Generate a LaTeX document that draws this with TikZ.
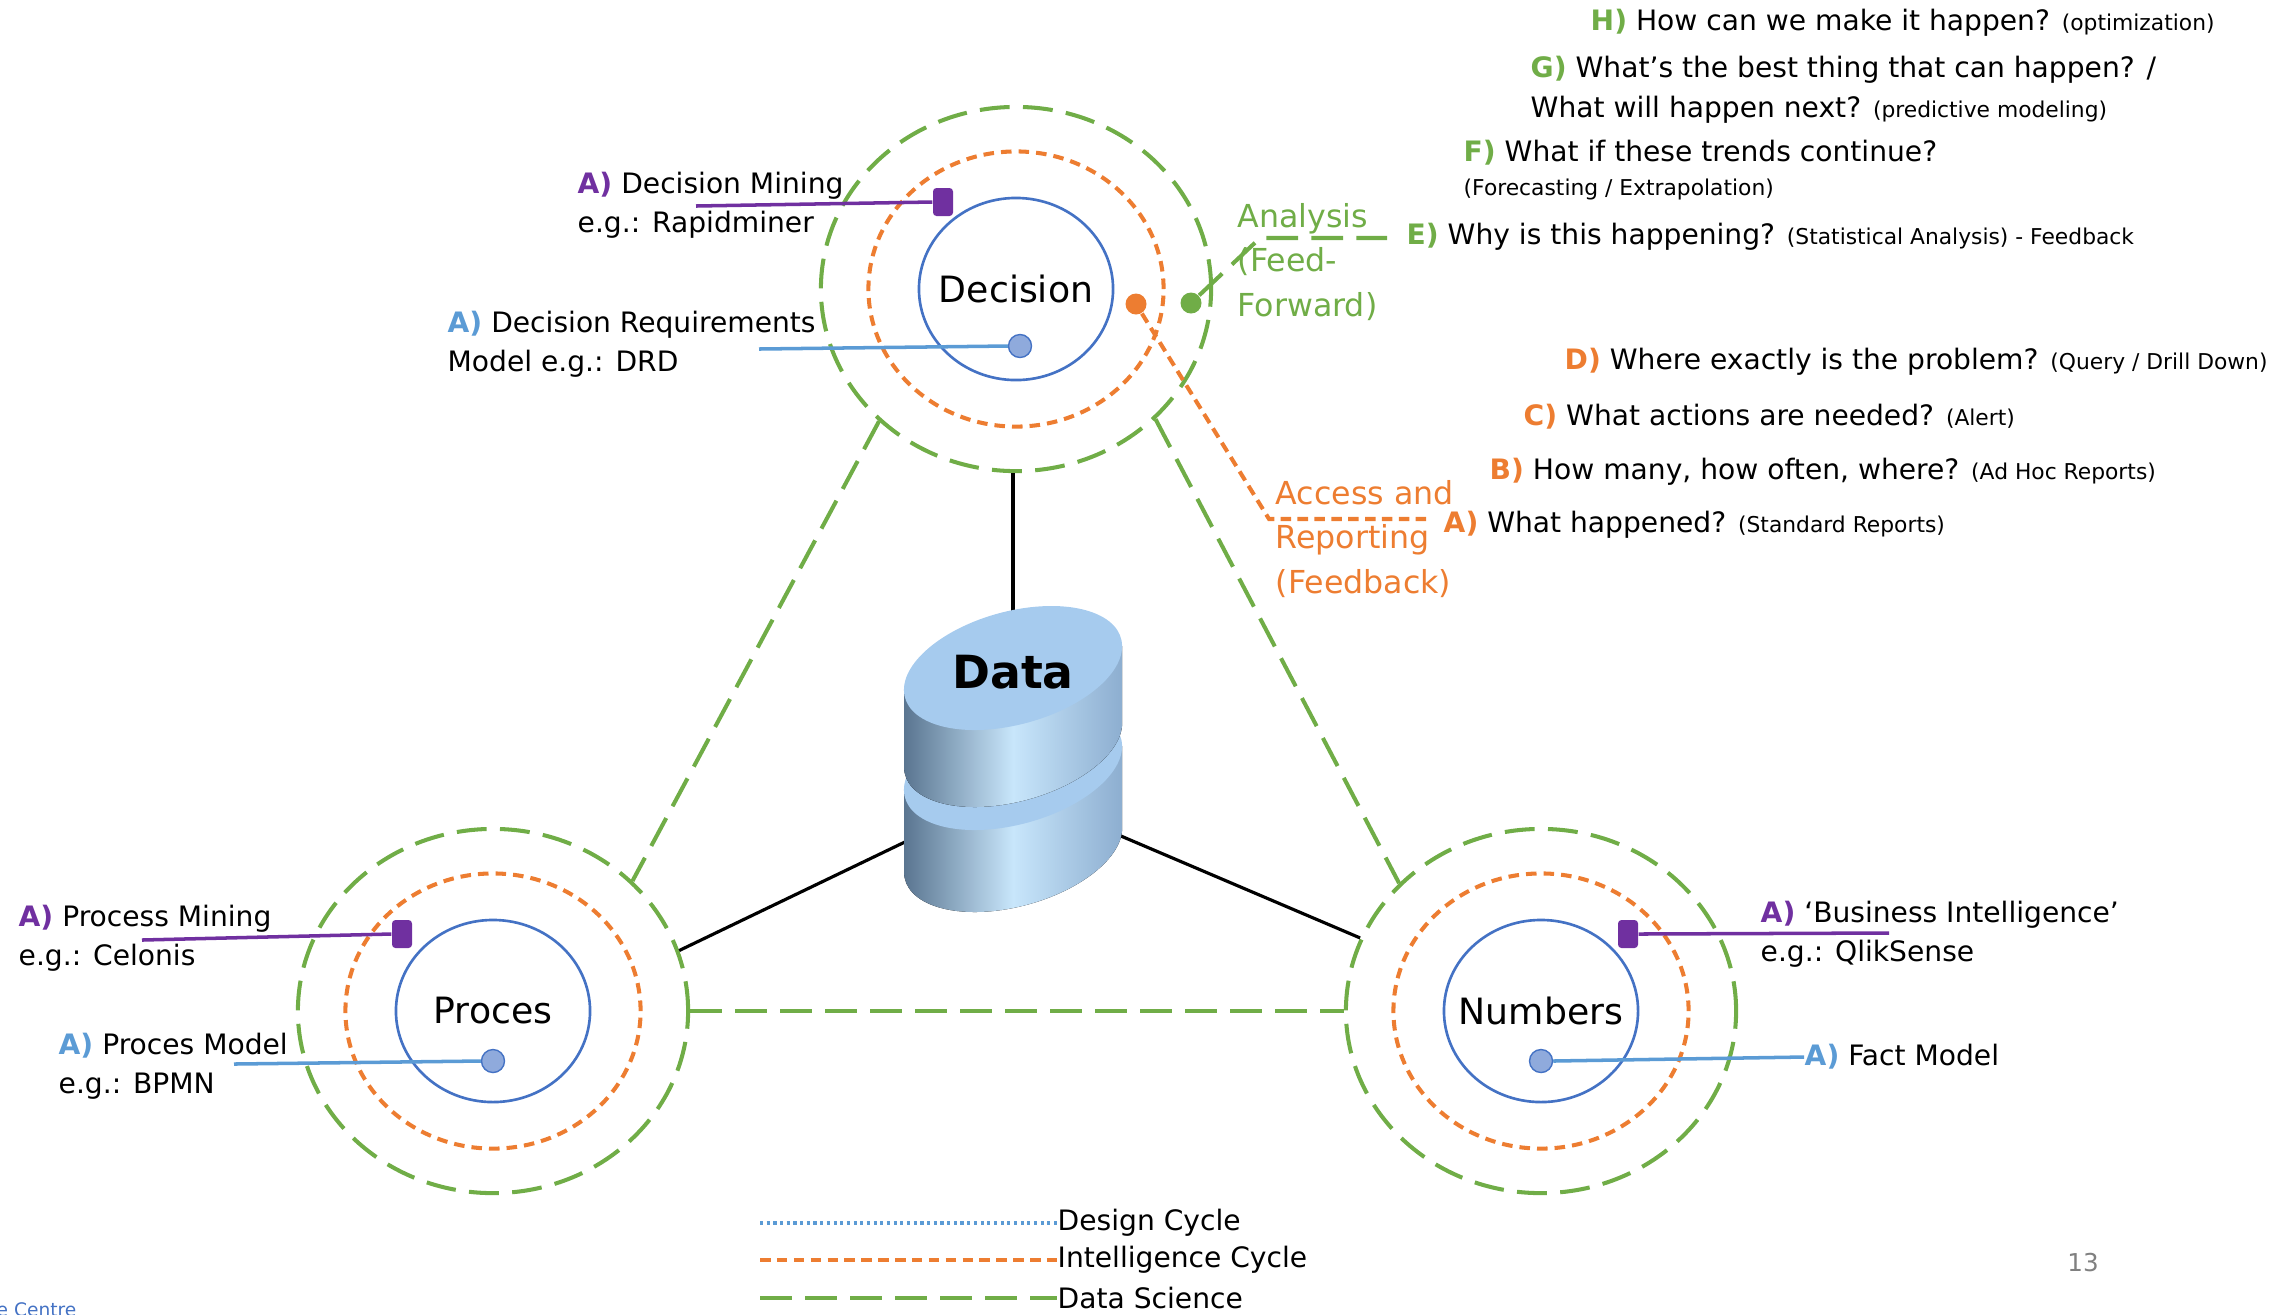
\documentclass[tikz,border=0pt]{standalone}
\usepackage{fontspec}
\setmainfont{DejaVu Sans}
\usepackage{xcolor}
\usetikzlibrary{shapes.geometric,positioning,calc}

\definecolor{dsgreen}{HTML}{70AD47}
\definecolor{icorange}{HTML}{ED7D31}
\definecolor{dcblue}{HTML}{5B9BD5}
\definecolor{ringblue}{HTML}{4472C4}
\definecolor{minepurple}{HTML}{7030A0}
\definecolor{dotfill}{HTML}{8FAADC}
\definecolor{facefill}{HTML}{A6CBEE}
\definecolor{bodyL}{HTML}{5A7590}
\definecolor{bodyM}{HTML}{C8E6FB}
\definecolor{bodyR}{HTML}{8DAED0}

\tikzset{
  ringg/.style={ellipse, draw=dsgreen, line width=1.15pt, dash pattern=on 8.5pt off 3.8pt,
                minimum width=3.9cm, minimum height=3.64cm, inner sep=0},
  ringo/.style={ellipse, draw=icorange, line width=1.15pt, dash pattern=on 3pt off 2pt,
                minimum width=2.95cm, minimum height=2.75cm, inner sep=0},
  core/.style={ellipse, draw=ringblue, line width=0.75pt, minimum width=1.94cm,
               minimum height=1.82cm, inner sep=0},
  coretxt/.style={inner sep=0, font=\fontsize{10.3}{12}\selectfont},
  dsline/.style={draw=dsgreen, line width=1.15pt, dash pattern=on 9pt off 3.8pt},
  icline/.style={draw=icorange, line width=1.15pt, dash pattern=on 3pt off 1.8pt},
  dcline/.style={draw=dcblue, line width=0.9pt, dash pattern=on 0.9pt off 1pt},
  link/.style={draw, line width=0.9pt},
  mine/.style={draw=minepurple, line width=1pt},
  model/.style={draw=dcblue, line width=1pt},
  minebox/.style={fill=minepurple, rounded corners=1pt, minimum width=0.2cm,
                  minimum height=0.28cm, inner sep=0},
  modeldot/.style={circle, fill=dotfill, draw=ringblue, line width=0.4pt,
                   minimum size=0.23cm, inner sep=0},
  cycdot/.style={circle, minimum size=0.21cm, inner sep=0},
  lbl/.style={anchor=west, inner sep=0, align=left, font=\fontsize{8}{11.1}\selectfont},
  qs/.style={anchor=west, inner sep=0, align=left, font=\fontsize{8}{11.4}\selectfont},
  flowtxt/.style={anchor=west, inner sep=0, align=left, font=\fontsize{9}{12.6}\selectfont},
}
\newcommand{\lett}[2]{{\bfseries\color{#1}#2}}
\newcommand{\smtxt}[1]{{\fontsize{6.2}{7.5}\selectfont #1}}

\begin{document}
\begin{tikzpicture}[x=0.01cm, y=-0.01cm]
  \useasboundingbox (0,0) rectangle (2292,1314);

  % the three cycles
  \node[ringg] (dec-g) at (1016,289) {};
  \node[ringo] (dec-o) at (1016,289) {};
  \node[core] (dec) at (1016,289) {};
  \node[coretxt] (dec-t) at (dec) {Decision};
  \node[ringg] (pro-g) at (493,1011) {};
  \node[ringo] (pro-o) at (493,1011) {};
  \node[core] (pro) at (493,1011) {};
  \node[coretxt] (pro-t) at (pro) {Proces};
  \node[ringg] (num-g) at (1541,1011) {};
  \node[ringo] (num-o) at (1541,1011) {};
  \node[core] (num) at (1541,1011) {};
  \node[coretxt] (num-t) at (num) {Numbers};

  % data science triangle
  \draw[dsline] (dec-g.224) -- (pro-g.43);
  \draw[dsline] (dec-g.317) -- (num-g.138);
  \draw[dsline] (pro-g.east) -- (num-g.west);

  % spokes to the data store
  \coordinate (hub) at (1013,790);
  \draw[link] (hub |- dec-g.south) -- (hub);
  \draw[link] (hub) -- (pro-g.18);
  \draw[link] (hub) -- (num-g.158);

  % data store
  \begin{scope}[shift={(1013,0)}, yslant=0.2]
    \fill[shade, left color=bodyL, right color=bodyR, middle color=bodyM]
      (-109,768) -- (-109,850) arc[start angle=180, end angle=360, x radius=1.09cm, y radius=0.58cm]
      -- (109,768) -- cycle;
    \fill[facefill] (0,768) ellipse [x radius=1.09cm, y radius=0.58cm];
    \fill[shade, left color=bodyL, right color=bodyR, middle color=bodyM]
      (-109,668) -- (-109,745) arc[start angle=180, end angle=360, x radius=1.09cm, y radius=0.58cm]
      -- (109,668) -- cycle;
    \fill[facefill] (0,668) ellipse [x radius=1.09cm, y radius=0.58cm];
  \end{scope}
  \node[font=\fontsize{13}{15}\selectfont\bfseries] (data) at (1013,672) {Data};

  % decision annotations
  \node[minebox] (dec-mine) at (943,202) {};
  \coordinate (dec-mine-e) at (696,206);
  \draw[mine] (dec-mine-e) -- (dec-mine.west);
  \node[lbl] (dec-mine-t) at (577,205) {\lett{minepurple}{A)} Decision Mining\\e.g.: Rapidminer};
  \node[modeldot] (dec-model) at (1020,346) {};
  \coordinate (dec-model-e) at (759,349);
  \draw[model] (dec-model-e) -- (dec-model.west);
  \node[lbl] (dec-model-t) at (447,344) {\lett{dcblue}{A)} Decision Requirements\\Model e.g.: DRD};

  % feedback and feed-forward
  \node[cycdot, fill=icorange] (ic-dot) at (1136,304) {};
  \node[cycdot, fill=dsgreen] (ds-dot) at (1191,303) {};
  \coordinate (ic-knee) at (1269,519);
  \coordinate (ic-end) at (1432,519);
  \draw[icline] (ic-dot) -- (ic-knee) -- (ic-end);
  \node[flowtxt, text=icorange] (ic-t) at (1275,539) {Access and\\Reporting\\(Feedback)};
  \coordinate (ds-knee) at (1260,238);
  \coordinate (ds-end) at (1387,238);
  \draw[dsline] (ds-dot) -- (ds-knee) -- (ds-end);
  \node[flowtxt, text=dsgreen] (ds-t) at (1237,262) {Analysis\\(Feed-\\Forward)};

  % questions
  \node[qs] (qh) at (1590,23) {\lett{dsgreen}{H)} How can we make it happen? \smtxt{(optimization)}};
  \node[qs] (qg) at (1530,70) {\lett{dsgreen}{G)} What’s the best thing that can happen? /};
  \node[qs] (qg2) at (1530,110) {What will happen next? \smtxt{(predictive modeling)}};
  \node[qs] (qf) at (1463,153) {\lett{dsgreen}{F)} What if these trends continue?};
  \node[qs] (qf2) at (1463,189) {\smtxt{(Forecasting / Extrapolation)}};
  \node[qs] (qe) at (1406,237) {\lett{dsgreen}{E)} Why is this happening? \smtxt{(Statistical Analysis) - Feedback}};
  \node[qs] (qd) at (1564,362) {\lett{icorange}{D)} Where exactly is the problem? \smtxt{(Query / Drill Down)}};
  \node[qs] (qc) at (1523,417) {\lett{icorange}{C)} What actions are needed? \smtxt{(Alert)}};
  \node[qs] (qb) at (1489,472) {\lett{icorange}{B)} How many, how often, where? \smtxt{(Ad Hoc Reports)}};
  \node[qs] (qa) at (1443,525) {\lett{icorange}{A)} What happened? \smtxt{(Standard Reports)}};

  % proces annotations
  \node[minebox] (pro-mine) at (402,934) {};
  \coordinate (pro-mine-e) at (142,940);
  \draw[mine] (pro-mine-e) -- (pro-mine.west);
  \node[lbl] (pro-mine-t) at (18,938) {\lett{minepurple}{A)} Process Mining\\e.g.: Celonis};
  \node[modeldot] (pro-model) at (493,1061) {};
  \coordinate (pro-model-e) at (234,1064);
  \draw[model] (pro-model-e) -- (pro-model.west);
  \node[lbl] (pro-model-t) at (58,1066) {\lett{dcblue}{A)} Proces Model\\e.g.: BPMN};

  % numbers annotations
  \node[minebox] (num-mine) at (1628,934) {};
  \coordinate (num-mine-e) at (1889,933);
  \draw[mine] (num-mine.east) -- (num-mine-e);
  \node[lbl] (num-mine-t) at (1760,934) {\lett{minepurple}{A)} ‘Business Intelligence’\\e.g.: QlikSense};
  \node[modeldot] (num-model) at (1541,1061) {};
  \node[lbl] (num-model-t) at (1804,1057) {\lett{dcblue}{A)} Fact Model};
  \draw[model] (num-model.east) -- (num-model-t.west);

  % legend
  \node[lbl] (lg-dc-t) at (1057,1223) {Design Cycle};
  \node[lbl] (lg-ic-t) at (1057,1260) {Intelligence Cycle};
  \node[lbl] (lg-ds-t) at (1057,1298) {Data Science};
  \coordinate (lg-dc) at (760,1223);
  \coordinate (lg-ic) at (760,1260);
  \coordinate (lg-ds) at (760,1298);
  \draw[dcline] (lg-dc) -- (lg-dc-t.west);
  \draw[icline] (lg-ic) -- (lg-ic-t.west);
  \draw[dsline] (lg-ds) -- (lg-ds-t.west);

  % footer
  \node[anchor=center, inner sep=0, text=gray, font=\fontsize{7}{8}\selectfont] (page) at (2083,1263) {13};
  \node[anchor=base west, inner sep=0, text=ringblue, font=\fontsize{5.3}{6}\selectfont] (centre) at (-4,1316) {e Centre};
\end{tikzpicture}
\end{document}
